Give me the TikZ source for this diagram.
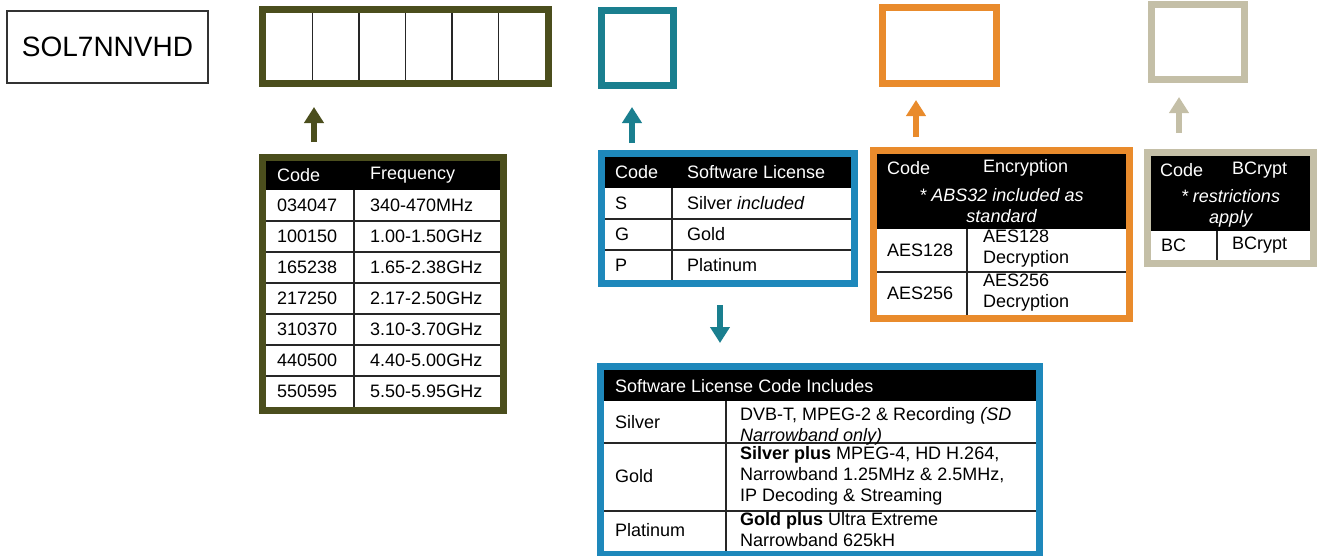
\documentclass[tikz,border=0pt]{standalone}
\usepackage{fontspec}
\setmainfont{Liberation Sans}
\usetikzlibrary{arrows.meta}

\definecolor{olivec}{HTML}{4B4E1D}
\definecolor{tealc}{HTML}{1A7F8F}
\definecolor{bluec}{HTML}{1E88BB}
\definecolor{orangec}{HTML}{E98B2C}
\definecolor{tanc}{HTML}{C4BFA7}

\tikzset{
  slotbox/.style={draw=#1, line width=7pt, inner sep=0pt, outer sep=0pt},
  tabframe/.style={draw=#1, line width=7pt, inner sep=0pt, outer sep=0pt},
  arr/.style={draw=#1, line width=5.5pt, -{Triangle[length=16pt,width=19pt]}},
  cellline/.style={draw=black!85, line width=1.3pt},
  txt/.style={font=\fontsize{18}{21}\selectfont, inner sep=0pt, anchor=west},
  hd/.style={txt, text=white},
}

\begin{document}
\begin{tikzpicture}[x=1pt,y=-1pt]
\useasboundingbox (0,0) rectangle (1319,555);

% part number and the code slots
\node[draw=black!80, line width=1.2pt, minimum width=201pt, minimum height=72pt,
      font=\fontsize{28}{30}\selectfont] (sol) at (107.5,47) {SOL7NNVHD};
\node[slotbox=olivec, minimum width=286pt, minimum height=74pt] (freqbox) at (405.5,46.5) {};
\foreach \i in {1,...,5}
  \draw[cellline] ({266+46.5*\i},13) -- ({266+46.5*\i},80);
\node[slotbox=tealc, minimum width=72pt, minimum height=75pt] (licbox) at (637.5,48) {};
\node[slotbox=orangec, minimum width=114pt, minimum height=76pt] (encbox) at (939.5,45.5) {};
\node[slotbox=tanc, minimum width=93pt, minimum height=75pt] (bcbox) at (1198,42) {};

% frequency table
\node[tabframe=olivec, minimum width=241pt, minimum height=253pt] (freqtab) at (383,284) {};
\fill[black] (266,161) rectangle (500,190);
\node[hd] (fh1) at (277,175.5) {Code};
\node[hd] (fh2) at (370,175.5) {Frequency};
\foreach \i in {1,...,6}
  \draw[cellline] (266,{190+31*\i}) -- (500,{190+31*\i});
\draw[cellline] (354,190) -- (354,407);
\foreach \c/\f [count=\i] in {034047/340-470MHz, 100150/1.00-1.50GHz, 165238/1.65-2.38GHz,
    217250/2.17-2.50GHz, 310370/3.10-3.70GHz, 440500/4.40-5.00GHz, 550595/5.50-5.95GHz} {
  \node[txt] (fc\i) at (277,{174.5+31*\i}) {\c};
  \node[txt] (ff\i) at (370,{174.5+31*\i}) {\f};
}

% software licence table
\node[tabframe=bluec, minimum width=253pt, minimum height=130pt] (lictab) at (728,218.5) {};
\fill[black] (605,157) rectangle (851,188);
\node[hd] (lh1) at (615,172.5) {Code};
\node[hd] (lh2) at (687,172.5) {Software License};
\draw[cellline] (605,219) -- (851,219);
\draw[cellline] (605,250) -- (851,250);
\draw[cellline] (672,188) -- (672,280);
\foreach \c/\l [count=\i] in {S/Silver \textit{included}, G/Gold, P/Platinum} {
  \node[txt] (lc\i) at (615,{172.5+31*\i}) {\c};
  \node[txt] (ll\i) at (687,{172.5+31*\i}) {\l};
}

% what each licence includes
\node[tabframe=bluec, minimum width=439pt, minimum height=188pt] (inctab) at (820,460.5) {};
\fill[black] (604,370) rectangle (1036,401);
\node[hd] (ih) at (615,386) {Software License Code Includes};
\draw[cellline] (604,443) -- (1036,443);
\draw[cellline] (604,511) -- (1036,511);
\draw[cellline] (726,401) -- (726,551);
\node[txt] (is) at (615,422) {Silver};
\node[txt] (ig) at (615,476) {Gold};
\node[txt] (ip) at (615,530) {Platinum};
\node[txt, align=left] (isd) at (740,426) {DVB-T, MPEG-2 \& Recording \textit{(SD}\\\textit{Narrowband only)}};
\node[txt, align=left] (igd) at (740,476) {\textbf{Silver plus} MPEG-4, HD H.264,\\Narrowband 1.25MHz \& 2.5MHz,\\IP Decoding \& Streaming};
\node[txt, align=left] (ipd) at (740,529.5) {\textbf{Gold plus} Ultra Extreme\\Narrowband 625kH};

% encryption table
\node[tabframe=orangec, minimum width=256pt, minimum height=168pt] (enctab) at (1001.5,234.5) {};
\fill[black] (877,154) rectangle (1126,229);
\node[hd] (eh1) at (887,168) {Code};
\node[hd] (eh2) at (983,168) {Encryption};
\node[hd, anchor=center, align=center, font=\fontsize{18}{21}\selectfont\itshape] (en) at (1001.5,205.5) {* ABS32 included as\\standard};
\draw[cellline] (877,272) -- (1126,272);
\draw[cellline] (967,229) -- (967,315);
\node[txt] (ec1) at (887,250) {AES128};
\node[txt, align=left] (ed1) at (983,249) {AES128\\Decryption};
\node[txt] (ec2) at (887,293) {AES256};
\node[txt, align=left] (ed2) at (983,292.5) {AES256\\Decryption};

% bcrypt table
\node[tabframe=tanc, minimum width=166pt, minimum height=111pt] (bctab) at (1230.5,208) {};
\fill[black] (1151,156) rectangle (1310,231);
\node[hd] (bh1) at (1160,170) {Code};
\node[hd] (bh2) at (1232,170) {BCrypt};
\node[hd, anchor=center, align=center, font=\fontsize{18}{21}\selectfont\itshape] (bn) at (1230.5,208) {* restrictions\\apply};
\draw[cellline] (1217,231) -- (1217,260);
\node[txt] (bc1) at (1161,245) {BC};
\node[txt] (bd1) at (1232,245) {BCrypt};

% arrows
\draw[arr=olivec] ([xshift=51.5pt,yshift=15.5pt]freqtab.north west) -- ([xshift=51.5pt,yshift=-23.5pt]freqbox.south west);
\draw[arr=tealc] ([xshift=30.5pt,yshift=10.5pt]lictab.north west) -- ([xshift=30.5pt,yshift=-21.5pt]licbox.south west);
\draw[arr=tealc] ([xshift=118.5pt,yshift=-21.5pt]lictab.south west) -- ([xshift=119.5pt,yshift=23.5pt]inctab.north west);
\draw[arr=orangec] ([xshift=42.5pt,yshift=13.5pt]enctab.north west) -- ([xshift=-23.5pt,yshift=-16.5pt]encbox.south);
\draw[arr=tanc] ([xshift=31.5pt,yshift=19.5pt]bctab.north west) -- ([xshift=-19pt,yshift=-17.5pt]bcbox.south);
\end{tikzpicture}
\end{document}
